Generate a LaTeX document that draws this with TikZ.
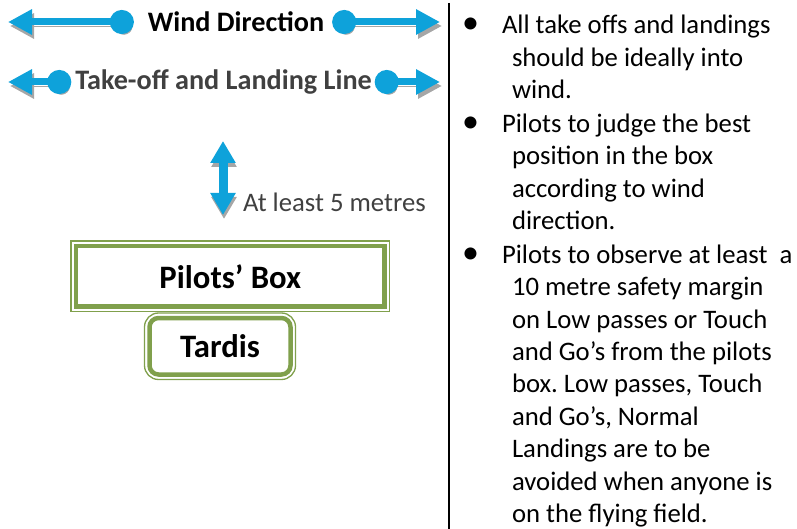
\documentclass[tikz,border=0pt]{standalone}
\usepackage{fontspec}
\setmainfont{Carlito}
\usetikzlibrary{arrows.meta,positioning}
\definecolor{arrowblue}{HTML}{0EA2DA}
\definecolor{shadowgray}{HTML}{A6A6A6}
\definecolor{boxgreen}{HTML}{80A04C}
\definecolor{textgray}{HTML}{404040}
\frenchspacing
\begin{document}
\begin{tikzpicture}[x=1pt, y=-1pt,
		font=\fontsize{26.7}{32.4}\selectfont,
		every node/.style={inner sep=0pt, outer sep=0pt},
		heading/.style={font=\fontsize{28.2}{30}\selectfont\bfseries},
		boxlabel/.style={font=\fontsize{32.7}{34}\selectfont\bfseries},
		windarrow/.style={arrowblue, line width=7pt,
			{Circle[length=24pt]}-{Triangle[length=24pt,width=24pt]},
			preaction={draw=shadowgray, transform canvas={shift={(2pt,-4pt)}}}},
		gaparrow/.style={arrowblue, line width=9pt,
			{Triangle[length=22pt,width=24pt]}-{Triangle[length=22pt,width=24pt]},
			preaction={draw=shadowgray, transform canvas={shift={(1pt,-4pt)}}}},
		pilotbox/.style={draw=boxgreen, line width=4.5pt, align=center},
		thinframe/.style={draw=boxgreen, line width=1.3pt},
		bullets/.style={anchor=base west, align=left},
		]
		\useasboundingbox (0,0) rectangle (797,529);
		
		\node[heading] (wind) at (236,22) {Wind Direction};
		\coordinate (windL) at (8,22);
		\coordinate (windR) at (440,22);
		\draw[windarrow] ([xshift=-14]wind.west) -- (windL);
		\draw[windarrow] ([xshift=8]wind.east) -- (windR);
		
		\node[heading, textgray] (line) at (223.5,82) {Take-off and Landing Line};
		\coordinate (lineL) at (8,82);
		\coordinate (lineR) at (440,82);
		\draw[windarrow] ([xshift=-4]line.west) -- (lineL);
		\draw[windarrow] ([xshift=3]line.east) -- (lineR);
		
		\coordinate (gapT) at (223,141);
		\coordinate (gapB) at (223,215);
		\draw[gaparrow] (gapT) -- (gapB);
		\node[textgray, anchor=west] (gap) at (243,202) {At least 5 metres};
		
		\node[pilotbox, boxlabel, minimum width=308.5pt, minimum height=60.5pt] (box) at (230.25,276.25) {Pilots’ Box};
		\draw[thinframe] ([shift={(-5,-5)}]box.north west) rectangle ([shift={(5,5)}]box.south east);
		
		\node[pilotbox, boxlabel, rounded corners=9pt, minimum width=141pt, minimum height=56.5pt] (tardis) at (220,346.25) {Tardis};
		\draw[thinframe, rounded corners=14pt] ([shift={(-5,-5)}]tardis.north west) rectangle ([shift={(5,5)}]tardis.south east);
		
		\coordinate (sepT) at (449,3);
		\coordinate (sepB) at (449,529);
		\draw[line width=2pt] (sepT) -- (sepB);
		
		% anchored at the baseline of the last line
		\node[bullets] (rule1) at (502,98.5) {\llap{{\fontsize{34}{34}\selectfont •}\hspace{23pt}}All take offs and landings\\
			\hspace*{10pt}should be ideally into\\
			\hspace*{10pt}wind.};
		\node[bullets] (rule2) at (502,229.5) {\llap{{\fontsize{34}{34}\selectfont •}\hspace{23pt}}Pilots to judge the best\\
			\hspace*{10pt}position in the box\\
			\hspace*{10pt}according to wind\\
			\hspace*{10pt}direction.};
		\node[bullets] (rule3) at (502,522.5) {\llap{{\fontsize{34}{34}\selectfont •}\hspace{23pt}}Pilots to observe at least\ \ a\\
			\hspace*{10pt}10 metre safety margin\\
			\hspace*{10pt}on Low passes or Touch\\
			\hspace*{10pt}and Go’s from the pilots\\
			\hspace*{10pt}box. Low passes, Touch\\
			\hspace*{10pt}and Go’s, Normal\\
			\hspace*{10pt}Landings are to be\\
			\hspace*{10pt}avoided when anyone is\\
			\hspace*{10pt}on the flying field.};
\end{tikzpicture}
\end{document}
